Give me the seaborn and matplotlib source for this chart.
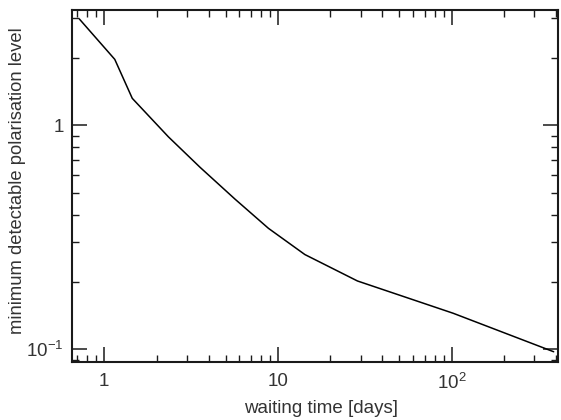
import matplotlib
matplotlib.use("Agg")
import matplotlib.pyplot as plt
import matplotlib.ticker as mticker
import seaborn as sns
import pandas as pd

# --- data ---
waiting_days = [0.72, 1.15, 1.45, 2.34, 3.56, 5.67, 8.82, 14.3, 28.7, 102, 387]
min_pol_level = [2.98, 1.97, 1.32, 0.889, 0.650, 0.468, 0.347, 0.265, 0.202, 0.145, 0.0976]

x_ticks = [1, 10, 100]
x_ticklabels = ["1", "10", r"$\mathregular{10^{2}}$"]
y_ticks = [0.1, 1]
y_ticklabels = [r"$\mathregular{10^{-1}}$", "1"]

df = pd.DataFrame({"days": waiting_days, "pol": min_pol_level})

sns.set_style("white")
plt.rcParams["font.family"] = ["Liberation Sans", "DejaVu Sans"]
plt.rcParams["mathtext.fontset"] = "custom"
plt.rcParams["mathtext.rm"] = "Liberation Sans"

fig = plt.figure(figsize=(5.61, 4.2), dpi=100)
ax = fig.add_axes([0.1283, 0.138, 0.8664, 0.838])

sns.lineplot(data=df, x="days", y="pol", color="black", linewidth=1.1,
             estimator=None, sort=False, ax=ax)

ax.set_xscale("log")
ax.set_yscale("log")
ax.set_xlim(0.652, 410)
ax.set_ylim(0.0878, 3.27)

ax.xaxis.set_major_locator(mticker.FixedLocator(x_ticks))
ax.xaxis.set_major_formatter(mticker.FixedFormatter(x_ticklabels))
ax.yaxis.set_major_locator(mticker.FixedLocator(y_ticks))
ax.yaxis.set_major_formatter(mticker.FixedFormatter(y_ticklabels))
ax.xaxis.set_minor_locator(mticker.LogLocator(base=10, subs=range(2, 10)))
ax.yaxis.set_minor_locator(mticker.LogLocator(base=10, subs=range(2, 10)))
ax.xaxis.set_minor_formatter(mticker.NullFormatter())
ax.yaxis.set_minor_formatter(mticker.NullFormatter())

ax.tick_params(which="both", direction="in", top=True, right=True,
               bottom=True, left=True,
               colors="#1a1a1a", labelcolor="#333333", labelsize=13.5)
ax.tick_params(which="major", length=11, width=1.1)
ax.tick_params(which="minor", length=5, width=1.0)
ax.tick_params(axis="x", which="major", pad=8)
ax.tick_params(axis="y", which="major", pad=6)

for s in ax.spines.values():
    s.set_visible(True)
    s.set_color("#1a1a1a")
    s.set_linewidth(1.5)

ax.set_xlabel("waiting time [days]", fontsize=13.5, color="#333333", va="center")
ax.set_ylabel("minimum detectable polarisation level", fontsize=13.2,
              color="#333333", va="center")
ax.xaxis.set_label_coords(0.512, -0.131)
ax.yaxis.set_label_coords(-0.113, 0.515)

fig.savefig("out.png", dpi=100)
